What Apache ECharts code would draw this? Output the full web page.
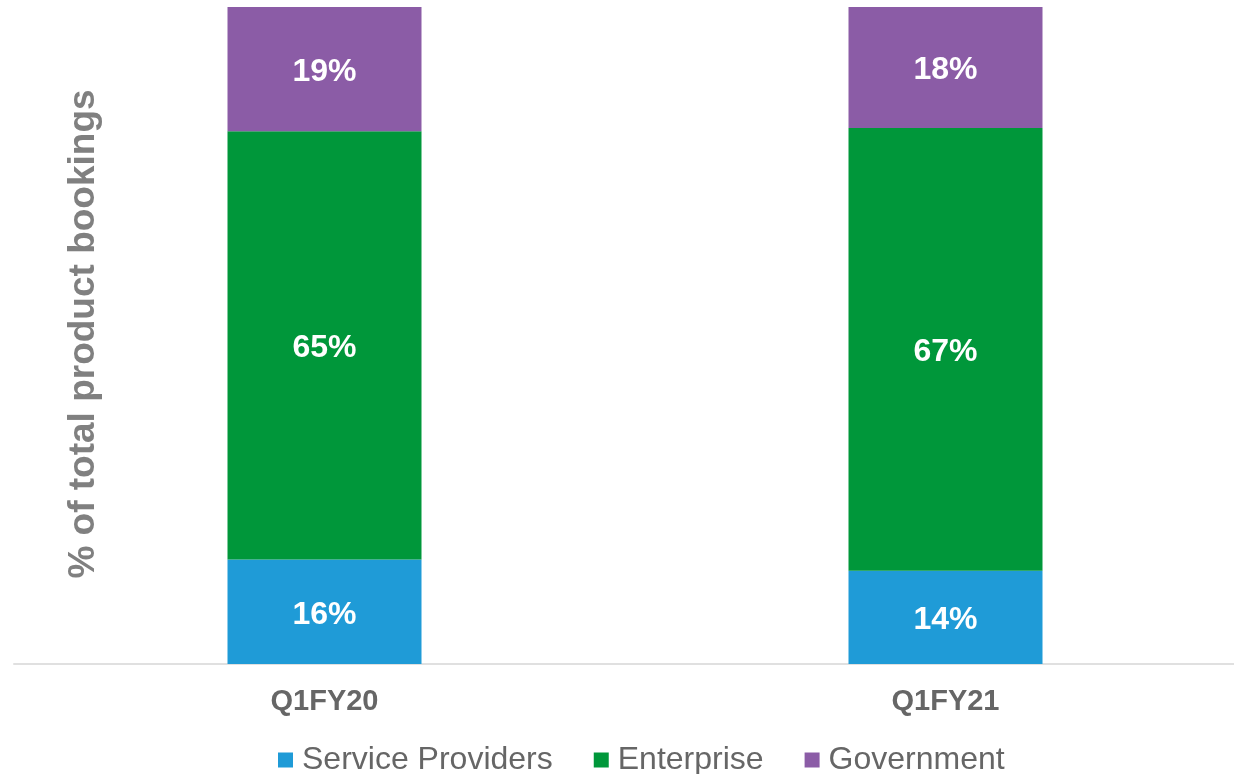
<!DOCTYPE html>
<html>
<head>
<meta charset="utf-8">
<script src="https://cdn.jsdelivr.net/npm/echarts@6/dist/echarts.min.js"></script>
<style>
  html, body { margin: 0; padding: 0; background: #fff; }
  #chart { width: 1234px; height: 774px; }
</style>
</head>
<body>
<div id="chart"></div>
<script>
const categories = ['Q1FY20', 'Q1FY21']
const serviceProviders = [15.9, 14.2]
const enterprise = [65.2, 67.4]
const government = [18.9, 18.4]
const yTitle = '% of total product bookings'

const font = "'Liberation Sans', Arial, sans-serif"
const chart = echarts.init(document.getElementById('chart'), null, { renderer: 'canvas' })

const labelOption = {
  show: true,
  position: 'inside',
  offset: [0, 3],
  color: '#fff',
  fontFamily: font,
  fontWeight: 'bold',
  fontSize: 32,
  formatter: p => Math.round(p.value) + '%'
}

function bar (name, data, color) {
  return {
    name,
    type: 'bar',
    stack: 'total',
    data,
    barWidth: 194,
    itemStyle: { color },
    label: labelOption,
    emphasis: { disabled: true }
  }
}

const option = {
  animation: false,
  // plot runs past the right edge, the axis line is cut there like in the source
  grid: { left: 14, right: -22, top: 7, bottom: 110, outerBoundsMode: 'none' },
  legend: {
    left: 273,
    top: 739,
    icon: 'rect',
    itemWidth: 15,
    itemHeight: 15,
    itemGap: 41,
    textStyle: { fontFamily: font, fontSize: 32, color: '#666', padding: [0, 0, 0, 4] },
    data: ['Service Providers', 'Enterprise', 'Government']
  },
  xAxis: {
    type: 'category',
    data: categories,
    axisLine: { lineStyle: { color: '#e0e0e0', width: 2 } },
    axisTick: { show: false },
    axisLabel: { color: '#666', fontFamily: font, fontWeight: 'bold', fontSize: 29, margin: 23 }
  },
  yAxis: {
    type: 'value',
    min: 0,
    max: 100,
    show: false
  },
  graphic: [{
    type: 'text',
    x: 84,
    y: 334,
    rotation: Math.PI / 2,
    style: {
      text: yTitle,
      fill: '#808080',
      font: 'bold 37px ' + font,
      textAlign: 'center',
      textVerticalAlign: 'middle'
    }
  }],
  series: [
    bar('Service Providers', serviceProviders, '#1f9bd7'),
    bar('Enterprise', enterprise, '#00973a'),
    bar('Government', government, '#8b5ca6')
  ]
}
chart.setOption(option)
</script>
</body>
</html>
